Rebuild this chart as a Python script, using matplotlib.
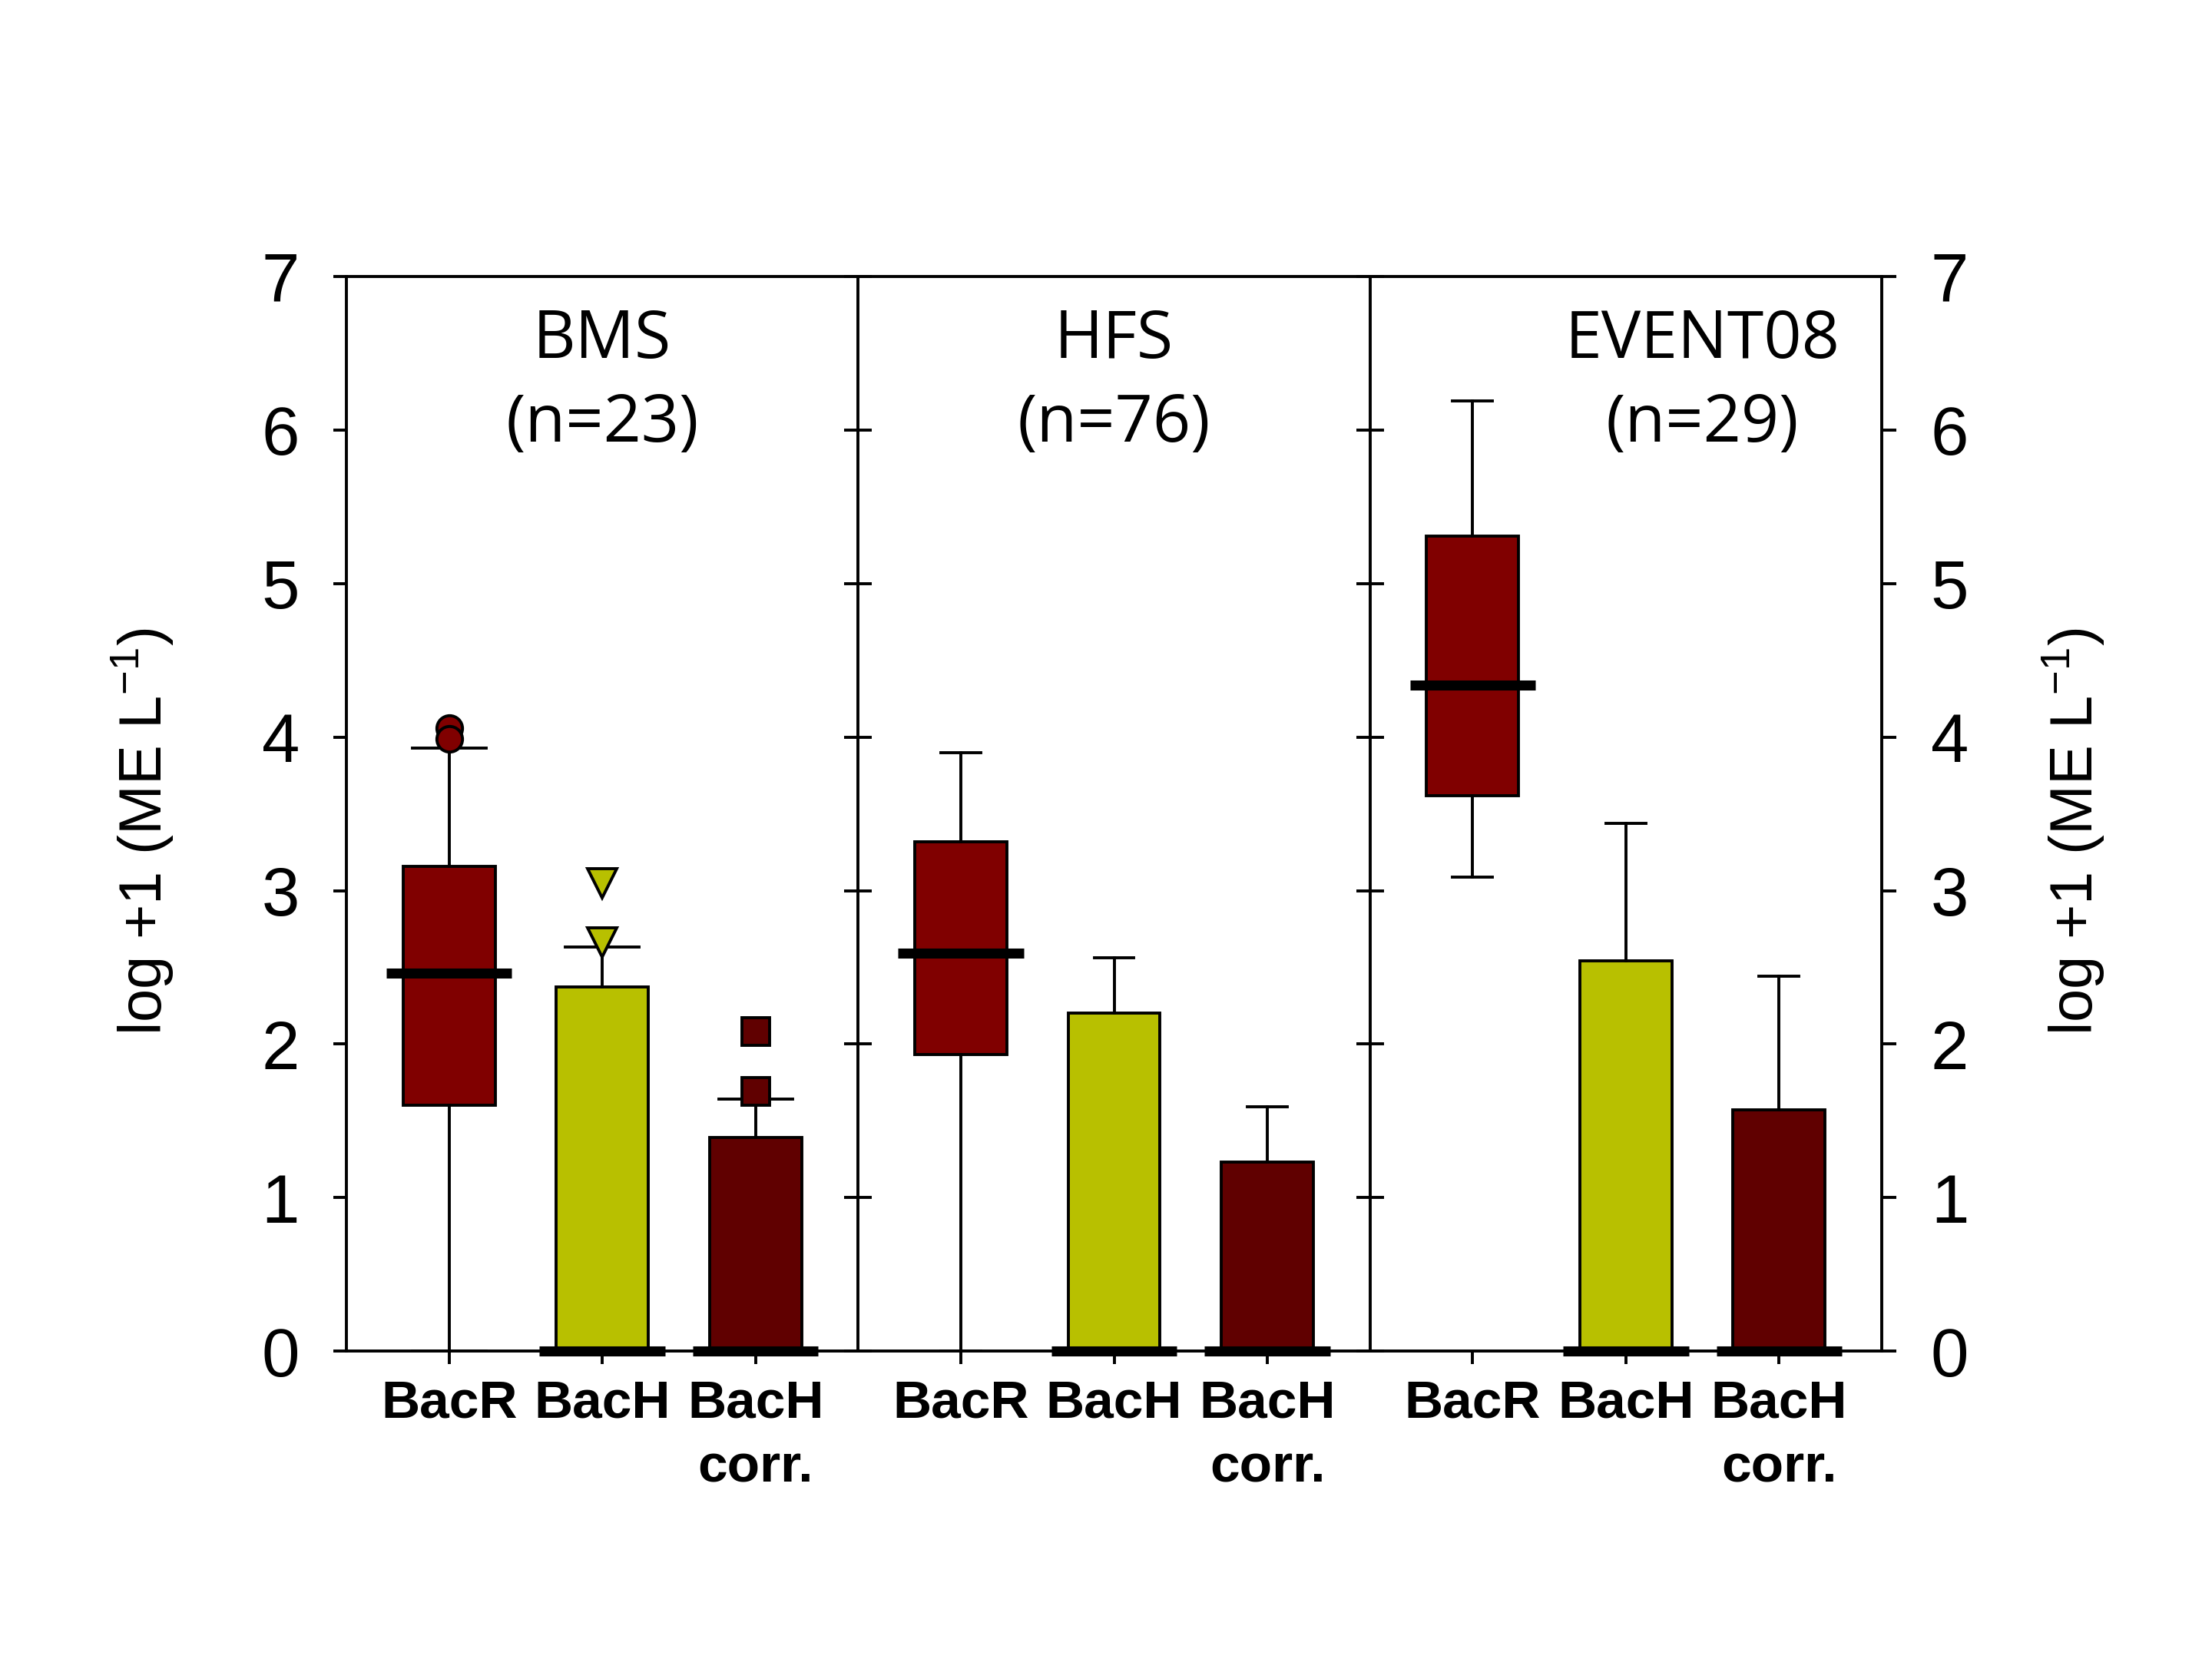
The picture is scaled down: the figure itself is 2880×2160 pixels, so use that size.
import matplotlib
matplotlib.use("Agg")
import matplotlib.pyplot as plt

plt.rcParams["mathtext.fontset"] = "custom"
plt.rcParams["mathtext.rm"] = "Liberation Sans"
plt.rcParams["mathtext.it"] = "Liberation Sans"

# sites and sample sizes
panel_titles = ["BMS\n(n=23)", "HFS\n(n=76)", "EVENT08\n(n=29)"]
categories = ["BacR", "BacH", "BacH\ncorr."]

# box statistics, log +1 (ME L-1), one row per site: BacR, BacH, BacH corr.
q1 = [[1.60, 0.0, 0.0], [1.93, 0.0, 0.0], [3.62, 0.0, 0.0]]
median = [[2.46, 0.0, 0.0], [2.59, 0.0, 0.0], [4.34, 0.0, 0.0]]
q3 = [[3.16, 2.37, 1.39], [3.32, 2.20, 1.23], [5.31, 2.54, 1.57]]
whisker_low = [[0.0, 0.0, 0.0], [0.0, 0.0, 0.0], [3.09, 0.0, 0.0]]
whisker_high = [[3.93, 2.63, 1.64], [3.90, 2.56, 1.59], [6.19, 3.44, 2.44]]
outliers = [[[4.06, 3.99], [3.05, 2.66], [2.08, 1.69]],
            [[], [], []],
            [[], [], []]]

box_colors = ["#800000", "#b8c000", "#600000"]
flier_markers = ["o", "v", "s"]
flier_sizes = [12, 14, 13]
cap_widths = [0.48, 0.26, 0.26]
title_x = [2.0, 2.0, 2.5]

fig, axes = plt.subplots(1, 3, figsize=(14.4, 10.8), dpi=200)
fig.subplots_adjust(left=0.1566, right=0.8507, bottom=0.1856, top=0.8333, wspace=0)

positions = [1, 2, 3]

for i, ax in enumerate(axes):
    stats = []
    for j in range(3):
        stats.append(dict(q1=q1[i][j], med=median[i][j], q3=q3[i][j],
                          whislo=whisker_low[i][j], whishi=whisker_high[i][j],
                          fliers=[]))
    bp = ax.bxp(stats, positions=positions, widths=0.6, patch_artist=True,
                capwidths=[cap_widths[i]] * 3, showfliers=False,
                boxprops=dict(linewidth=1.4, edgecolor="black"),
                whiskerprops=dict(linewidth=1.4, color="black"),
                capprops=dict(linewidth=1.4, color="black"),
                medianprops=dict(visible=False), zorder=2)
    for patch, c in zip(bp["boxes"], box_colors):
        patch.set_facecolor(c)
    # thick median bars, wider than the boxes
    ax.hlines(median[i], [p - 0.41 for p in positions], [p + 0.41 for p in positions],
              colors="black", linewidth=4.7, zorder=4, clip_on=False)
    for j in range(3):
        if outliers[i][j]:
            ax.plot([positions[j]] * len(outliers[i][j]), outliers[i][j],
                    linestyle="none", marker=flier_markers[j], markersize=flier_sizes[j],
                    markerfacecolor=box_colors[j], markeredgecolor="black",
                    markeredgewidth=1.4, zorder=5)

    ax.set_xlim(0.33, 3.67)
    ax.set_ylim(0, 7)
    ax.set_yticks(range(8))
    ax.set_xticks(positions)
    ax.set_xticklabels(categories, fontfamily="Liberation Sans", fontweight="bold",
                       fontsize=25, linespacing=1.4)
    ax.tick_params(axis="x", direction="out", length=6, width=1.4, pad=7)
    for s in ax.spines.values():
        s.set_linewidth(1.4)
    ax.spines["right"].set_visible(False)

    if i == 0:
        ax.tick_params(axis="y", direction="out", length=6, width=1.4, pad=16,
                       labelsize=32)
        for lab in ax.get_yticklabels():
            lab.set_fontfamily("Liberation Sans")
    else:
        ax.tick_params(axis="y", direction="inout", length=13, width=1.4,
                       labelleft=False)

    ax.text(title_x[i], 6.80, panel_titles[i], ha="center", va="top",
            fontfamily="Open Sans", fontsize=31, linespacing=1.35)

# right-hand axis on the last panel
axr = axes[2].twinx()
axr.set_ylim(0, 7)
axr.set_yticks(range(8))
axr.tick_params(axis="y", direction="out", length=7, width=1.4, pad=16, labelsize=32)
for lab in axr.get_yticklabels():
    lab.set_fontfamily("Liberation Sans")
axr.spines["right"].set_linewidth(1.4)
for name in ["left", "top", "bottom"]:
    axr.spines[name].set_visible(False)

ylab = "log +1 (ME L$^{-1}$)"
fig.text(0.0646, 0.499, ylab, rotation=90, ha="center", va="center",
         fontfamily="Liberation Sans", fontsize=28)
fig.text(0.9375, 0.499, ylab, rotation=90, ha="center", va="center",
         fontfamily="Liberation Sans", fontsize=28)

fig.savefig("out.png", dpi=200)
